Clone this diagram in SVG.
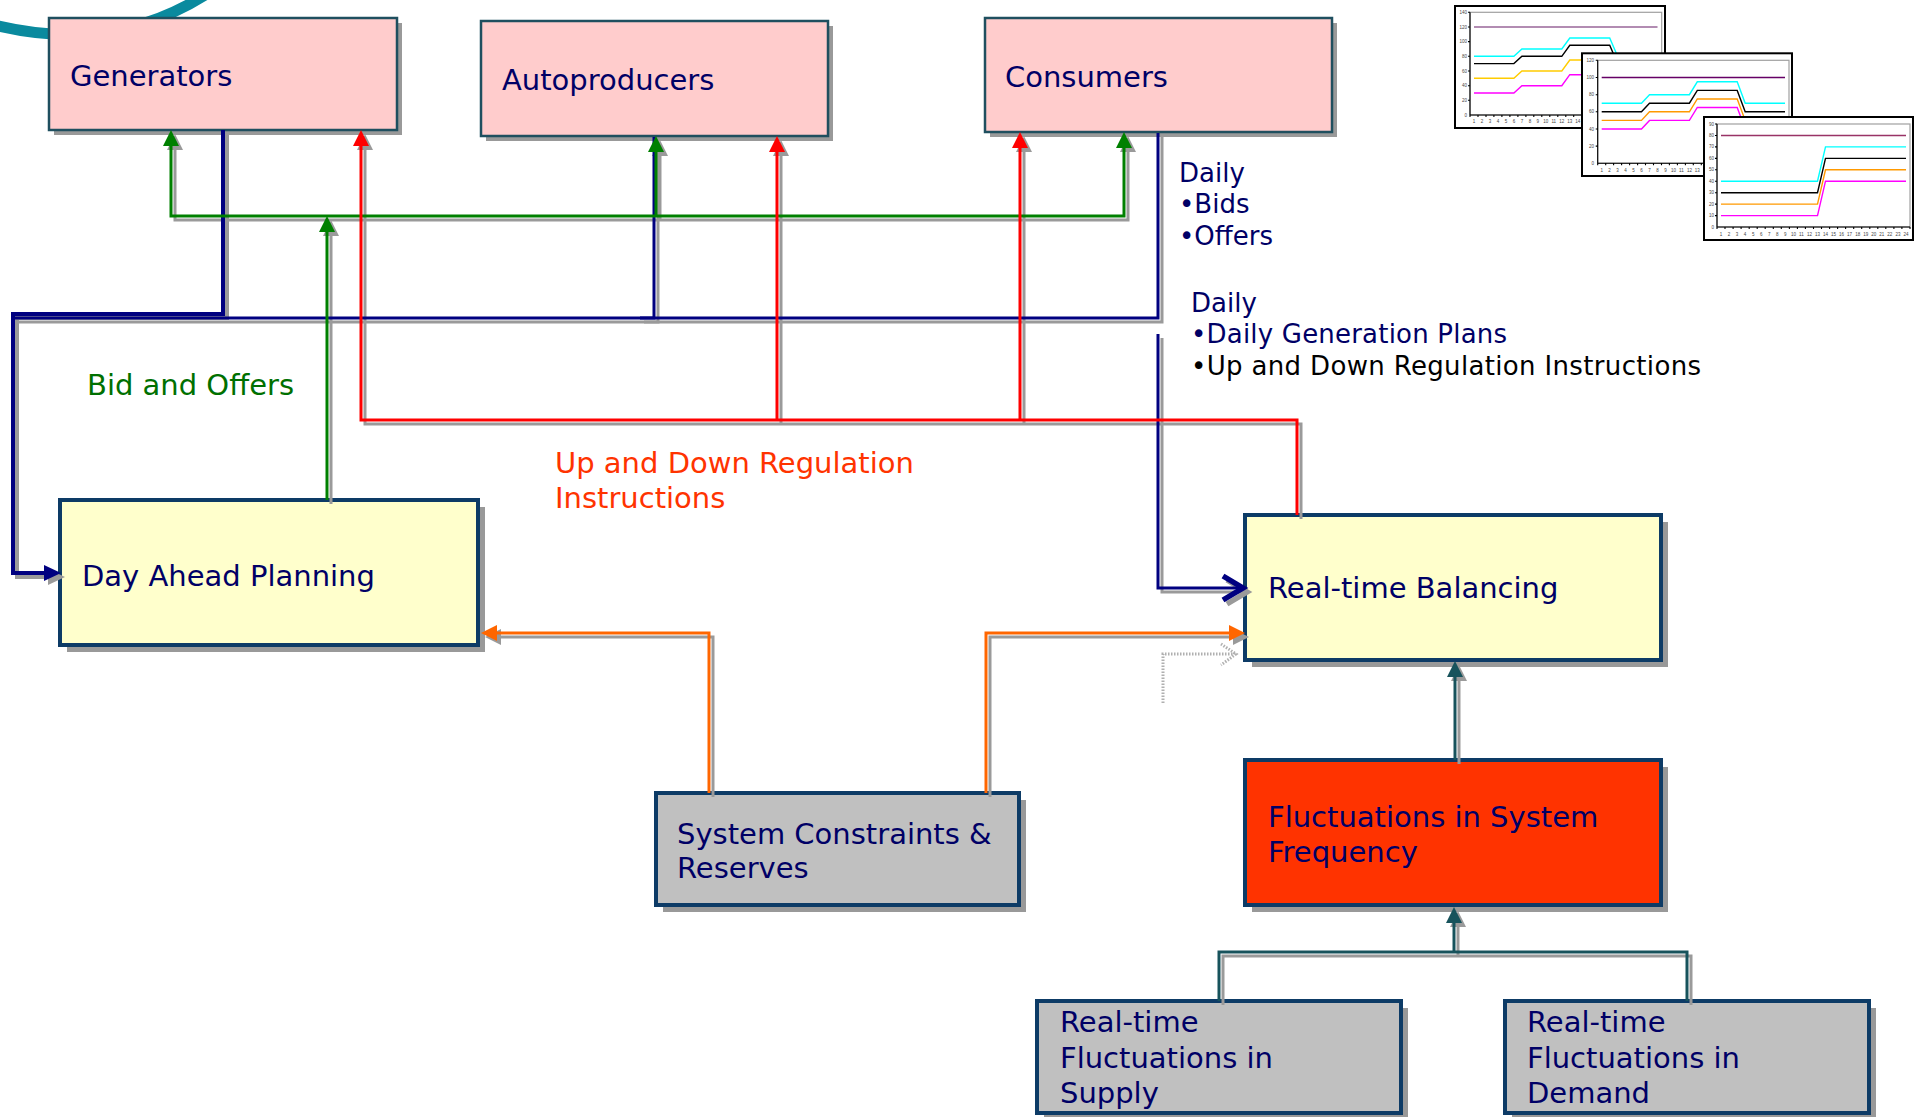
<svg xmlns="http://www.w3.org/2000/svg" width="1923" height="1117" viewBox="0 0 1923 1117">
<style>
.nt{font-family:"DejaVu Sans",Verdana,sans-serif;font-size:29px;fill:#000066}
.lb{font-family:"DejaVu Sans",Verdana,sans-serif;font-size:26px;fill:#000066}
.pink{fill:#FFCCCC;stroke:#1F4F5F;stroke-width:2.5}
.yel{fill:#FFFFCC;stroke:#0D3B66;stroke-width:4}
.gry{fill:#C0C0C0;stroke:#0D3B66;stroke-width:4}
.redb{fill:#FF3300;stroke:#0D3B66;stroke-width:4}
.shd{fill:#999999}
.ln{fill:none}
.ah{stroke:none}
.cg{stroke:#008000;fill:#008000}
.cr{stroke:#FF0000;fill:#FF0000}
.cn{stroke:#000080;fill:#000080}
.co{stroke:#FF6600;fill:#FF6600}
.ct{stroke:#17535C;fill:#17535C}
.sh{stroke:#9A9A9A;fill:#9A9A9A}
.w3{stroke-width:3}
.w4{stroke-width:4}
.chf{fill:#FFFFFF;stroke:#000000;stroke-width:2}
.plot{fill:none;stroke:#A0A0A0;stroke-width:1.2}
.axis{fill:none;stroke:#000000;stroke-width:1.1}
.ser{fill:none;stroke-width:1.4}
.ctx{font-family:"Liberation Sans",Arial,sans-serif;font-size:4.5px;fill:#444444}
.yl{text-anchor:end}
.xl{text-anchor:middle}
</style>

<!-- decorative arc -->
<path d="M-10,24 Q110,55 205,-5" fill="none" stroke="#0A8A9E" stroke-width="11"/>

<!-- charts -->
<g id="chart1">
<rect class="chf" x="1455" y="6" width="210" height="122"/>
<rect class="plot" x="1470" y="12.3" width="191.7" height="102.7"/>
<path class="axis" d="M1470,12.3V115H1661.7 M1468,12.3h2 M1468,27h2 M1468,41.6h2 M1468,56.3h2 M1468,71h2 M1468,85.7h2 M1468,100.3h2 M1470,115v2 M1478,115v2 M1486,115v2 M1493.9,115v2 M1501.9,115v2 M1509.9,115v2 M1517.9,115v2 M1525.9,115v2 M1533.8,115v2 M1541.8,115v2 M1549.8,115v2 M1557.8,115v2 M1565.8,115v2 M1573.7,115v2 M1581.7,115v2"/>
<path class="ser" stroke="#996699" d="M1474,27H1657.5"/>
<path class="ser" stroke="#00FFFF" d="M1474,56.3H1513.9L1521.9,49H1561.8L1569.8,38H1609.7L1617.6,56.3H1657.5"/>
<path class="ser" stroke="#000000" d="M1474,63.6H1513.9L1521.9,56.3H1561.8L1569.8,45.3H1609.7L1617.6,63.6H1657.5"/>
<path class="ser" stroke="#FFCC00" d="M1474,78.3H1513.9L1521.9,71H1561.8L1569.8,60H1609.7L1617.6,78.3H1657.5"/>
<path class="ser" stroke="#FF00FF" d="M1474,93H1513.9L1521.9,85.7H1561.8L1569.8,74.7H1609.7L1617.6,93H1657.5"/>
<g class="ctx yl">
<text x="1467" y="116.5">0</text><text x="1467" y="101.8">20</text><text x="1467" y="87.2">40</text><text x="1467" y="72.5">60</text><text x="1467" y="57.8">80</text><text x="1467" y="43.1">100</text><text x="1467" y="28.5">120</text><text x="1467" y="13.8">140</text>
</g>
<g class="ctx xl">
<text x="1474" y="123.2">1</text><text x="1482" y="123.2">2</text><text x="1490" y="123.2">3</text><text x="1497.9" y="123.2">4</text><text x="1505.9" y="123.2">5</text><text x="1513.9" y="123.2">6</text><text x="1521.9" y="123.2">7</text><text x="1529.9" y="123.2">8</text><text x="1537.8" y="123.2">9</text><text x="1545.8" y="123.2">10</text><text x="1553.8" y="123.2">11</text><text x="1561.8" y="123.2">12</text><text x="1569.8" y="123.2">13</text><text x="1577.7" y="123.2">14</text>
</g>
</g>

<g id="chart2">
<rect class="chf" x="1582" y="53.3" width="210" height="122.7"/>
<rect class="plot" x="1597.7" y="60.3" width="191.3" height="103"/>
<path class="axis" d="M1597.7,60.3V163.3H1789 M1595.7,60.3h2 M1595.7,77.5h2 M1595.7,94.7h2 M1595.7,111.8h2 M1595.7,129h2 M1595.7,146.1h2 M1597.7,163.3v2 M1605.7,163.3v2 M1613.6,163.3v2 M1621.6,163.3v2 M1629.6,163.3v2 M1637.6,163.3v2 M1645.5,163.3v2 M1653.5,163.3v2 M1661.5,163.3v2 M1669.4,163.3v2 M1677.4,163.3v2 M1685.4,163.3v2 M1693.3,163.3v2 M1701.3,163.3v2"/>
<path class="ser" stroke="#660066" d="M1601.7,77.5H1785"/>
<path class="ser" stroke="#00FFFF" d="M1601.7,103.2H1641.5L1649.5,94.7H1689.4L1697.3,81.8H1737.2L1745.2,103.2H1785"/>
<path class="ser" stroke="#000000" d="M1601.7,111.8H1641.5L1649.5,103.2H1689.4L1697.3,90.4H1737.2L1745.2,111.8H1785"/>
<path class="ser" stroke="#FF9900" d="M1601.7,120.4H1641.5L1649.5,111.8H1689.4L1697.3,99H1737.2L1745.2,120.4H1785"/>
<path class="ser" stroke="#FF00FF" d="M1601.7,129H1641.5L1649.5,120.4H1689.4L1697.3,107.5H1737.2L1745.2,129H1785"/>
<g class="ctx yl">
<text x="1594" y="164.8">0</text><text x="1594" y="147.6">20</text><text x="1594" y="130.5">40</text><text x="1594" y="113.3">60</text><text x="1594" y="96.2">80</text><text x="1594" y="79">100</text><text x="1594" y="61.8">120</text>
</g>
<g class="ctx xl">
<text x="1601.7" y="171.5">1</text><text x="1609.6" y="171.5">2</text><text x="1617.6" y="171.5">3</text><text x="1625.6" y="171.5">4</text><text x="1633.6" y="171.5">5</text><text x="1641.5" y="171.5">6</text><text x="1649.5" y="171.5">7</text><text x="1657.5" y="171.5">8</text><text x="1665.5" y="171.5">9</text><text x="1673.4" y="171.5">10</text><text x="1681.4" y="171.5">11</text><text x="1689.4" y="171.5">12</text><text x="1697.3" y="171.5">13</text>
</g>
</g>

<g id="chart3">
<rect class="chf" x="1704" y="117" width="209" height="123"/>
<rect class="plot" x="1717" y="124" width="193" height="103"/>
<path class="axis" d="M1717,124V227H1910 M1715,124h2 M1715,135.5h2 M1715,146.9h2 M1715,158.4h2 M1715,169.8h2 M1715,181.2h2 M1715,192.7h2 M1715,204.1h2 M1715,215.6h2 M1717,227v2 M1725,227v2 M1733.1,227v2 M1741.1,227v2 M1749.2,227v2 M1757.2,227v2 M1765.2,227v2 M1773.3,227v2 M1781.3,227v2 M1789.4,227v2 M1797.4,227v2 M1805.4,227v2 M1813.5,227v2 M1821.5,227v2 M1829.6,227v2 M1837.6,227v2 M1845.6,227v2 M1853.7,227v2 M1861.7,227v2 M1869.8,227v2 M1877.8,227v2 M1885.8,227v2 M1893.9,227v2 M1901.9,227v2 M1910,227v2"/>
<path class="ser" stroke="#993366" d="M1721,135.5H1906"/>
<path class="ser" stroke="#00FFFF" d="M1721,181.2H1817.5L1825.5,146.9H1906"/>
<path class="ser" stroke="#000000" d="M1721,192.7H1817.5L1825.5,158.4H1906"/>
<path class="ser" stroke="#FF9900" d="M1721,204.1H1817.5L1825.5,169.8H1906"/>
<path class="ser" stroke="#FF00FF" d="M1721,215.6H1817.5L1825.5,181.2H1906"/>
<g class="ctx yl">
<text x="1714" y="228.5">0</text><text x="1714" y="217.1">10</text><text x="1714" y="205.6">20</text><text x="1714" y="194.2">30</text><text x="1714" y="182.7">40</text><text x="1714" y="171.3">50</text><text x="1714" y="159.9">60</text><text x="1714" y="148.4">70</text><text x="1714" y="137">80</text><text x="1714" y="125.5">90</text>
</g>
<g class="ctx xl">
<text x="1721" y="235.5">1</text><text x="1729" y="235.5">2</text><text x="1737.1" y="235.5">3</text><text x="1745.1" y="235.5">4</text><text x="1753.2" y="235.5">5</text><text x="1761.2" y="235.5">6</text><text x="1769.2" y="235.5">7</text><text x="1777.3" y="235.5">8</text><text x="1785.3" y="235.5">9</text><text x="1793.4" y="235.5">10</text><text x="1801.4" y="235.5">11</text><text x="1809.4" y="235.5">12</text><text x="1817.5" y="235.5">13</text><text x="1825.5" y="235.5">14</text><text x="1833.6" y="235.5">15</text><text x="1841.6" y="235.5">16</text><text x="1849.6" y="235.5">17</text><text x="1857.7" y="235.5">18</text><text x="1865.7" y="235.5">19</text><text x="1873.8" y="235.5">20</text><text x="1881.8" y="235.5">21</text><text x="1889.8" y="235.5">22</text><text x="1897.9" y="235.5">23</text><text x="1906" y="235.5">24</text>
</g>
</g>

<!-- nodes -->
<g id="node-generators">
<rect class="shd" x="54" y="23" width="348" height="112"/>
<rect class="pink" x="49" y="18" width="348" height="112"/>
<text class="nt" x="70" y="86">Generators</text>
</g>
<g id="node-autoproducers">
<rect class="shd" x="486" y="26" width="347" height="115"/>
<rect class="pink" x="481" y="21" width="347" height="115"/>
<text class="nt" x="502" y="90">Autoproducers</text>
</g>
<g id="node-consumers">
<rect class="shd" x="990" y="23" width="347" height="114"/>
<rect class="pink" x="985" y="18" width="347" height="114"/>
<text class="nt" x="1005" y="87">Consumers</text>
</g>
<g id="node-day-ahead">
<rect class="shd" x="67" y="507" width="418" height="145"/>
<rect class="yel" x="60" y="500" width="418" height="145"/>
<text class="nt" x="82" y="586">Day Ahead Planning</text>
</g>
<g id="node-realtime-balancing">
<rect class="shd" x="1252" y="522" width="416" height="145"/>
<rect class="yel" x="1245" y="515" width="416" height="145"/>
<text class="nt" x="1268" y="598">Real-time Balancing</text>
</g>
<g id="node-fluctuations-frequency">
<rect class="shd" x="1252" y="767" width="416" height="145"/>
<rect class="redb" x="1245" y="760" width="416" height="145"/>
<text class="nt" x="1268" y="827">Fluctuations in System</text>
<text class="nt" x="1268" y="862">Frequency</text>
</g>
<g id="node-system-constraints">
<rect class="shd" x="663" y="800" width="363" height="112"/>
<rect class="gry" x="656" y="793" width="363" height="112"/>
<text class="nt" x="677" y="844">System Constraints &amp;</text>
<text class="nt" x="677" y="878">Reserves</text>
</g>
<g id="node-supply">
<rect class="shd" x="1044" y="1008" width="364" height="112"/>
<rect class="gry" x="1037" y="1001" width="364" height="112"/>
<text class="nt" x="1060" y="1032">Real-time</text>
<text class="nt" x="1060" y="1068">Fluctuations in</text>
<text class="nt" x="1060" y="1103">Supply</text>
</g>
<g id="node-demand">
<rect class="shd" x="1512" y="1008" width="364" height="112"/>
<rect class="gry" x="1505" y="1001" width="364" height="112"/>
<text class="nt" x="1527" y="1032">Real-time</text>
<text class="nt" x="1527" y="1068">Fluctuations in</text>
<text class="nt" x="1527" y="1103">Demand</text>
</g>

<!-- connectors -->
<g id="connectors">
<g id="connector-shadows" class="sh">
<use href="#c-navy" transform="translate(4,4)"/>
<use href="#c-green" transform="translate(4,4)"/>
<use href="#c-red" transform="translate(4,4)"/>
<use href="#c-orange" transform="translate(4,4)"/>
<use href="#c-teal" transform="translate(4,4)"/>
</g>
<g class="cn"><g id="c-navy">
<path class="ln w4" d="M223,130V314H13V573H46"/>
<polygon class="ah" points="61,573 44,565 44,581"/>
<path class="ln w3" d="M654,137V318H15"/>
<path class="ln w3" d="M1158,133V318H640"/>
<path class="ln w3" d="M1158,334V588H1240"/>
<path class="ln" stroke-width="5.5" d="M1223,576L1243,588L1223,600"/>
</g></g>
<g class="cg"><g id="c-green">
<path class="ln w3" d="M171,146V216H1124V147"/>
<path class="ln w3" d="M656,216V150"/>
<path class="ln w3" d="M327,500V231"/>
<polygon class="ah" points="171,130 163,146 179,146"/>
<polygon class="ah" points="656,136 648,152 664,152"/>
<polygon class="ah" points="1124,132 1116,148 1132,148"/>
<polygon class="ah" points="327,216 319,232 335,232"/>
</g></g>
<g class="cr"><g id="c-red">
<path class="ln w3" d="M1297,515V420H361V146"/>
<path class="ln w3" d="M777,420V151"/>
<path class="ln w3" d="M1020,420V148"/>
<polygon class="ah" points="361,130 353,146 369,146"/>
<polygon class="ah" points="777,136 769,152 785,152"/>
<polygon class="ah" points="1020,132 1012,148 1028,148"/>
</g></g>
<g class="co"><g id="c-orange">
<path class="ln w3" d="M709,793V633H495"/>
<polygon class="ah" points="481,633 497,625 497,641"/>
<path class="ln w3" d="M986,793V633H1231"/>
<polygon class="ah" points="1245,633 1229,625 1229,641"/>
</g></g>
<g class="ct"><g id="c-teal">
<path class="ln w3" d="M1455,760V675"/>
<polygon class="ah" points="1455,661 1447,677 1463,677"/>
<path class="ln w3" d="M1219,1001V952H1687V1001"/>
<path class="ln w3" d="M1454,952V921"/>
<polygon class="ah" points="1454,907 1446,923 1462,923"/>
</g></g>
<g id="c-ghost" fill="none" stroke="#B0B0B0" stroke-width="3" stroke-dasharray="1.5 1.5">
<path d="M1163,703V654H1233"/>
<path d="M1221,644L1236,654L1221,665"/>
</g>
</g>

<!-- labels -->
<g id="labels">
<text class="nt" x="87" y="395" style="fill:#007000">Bid and Offers</text>
<text class="nt" x="555" y="473" style="fill:#FF3300">Up and Down Regulation</text>
<text class="nt" x="555" y="508" style="fill:#FF3300">Instructions</text>
<text class="lb" x="1179" y="182">Daily</text>
<text class="lb" x="1179" y="213">•Bids</text>
<text class="lb" x="1179" y="245">•Offers</text>
<text class="lb" x="1191" y="312">Daily</text>
<text class="lb" x="1191" y="343" textLength="316">•Daily Generation Plans</text>
<text class="lb" x="1191" y="375" style="fill:#000000" textLength="510">•Up and Down Regulation Instructions</text>
</g>
</svg>
